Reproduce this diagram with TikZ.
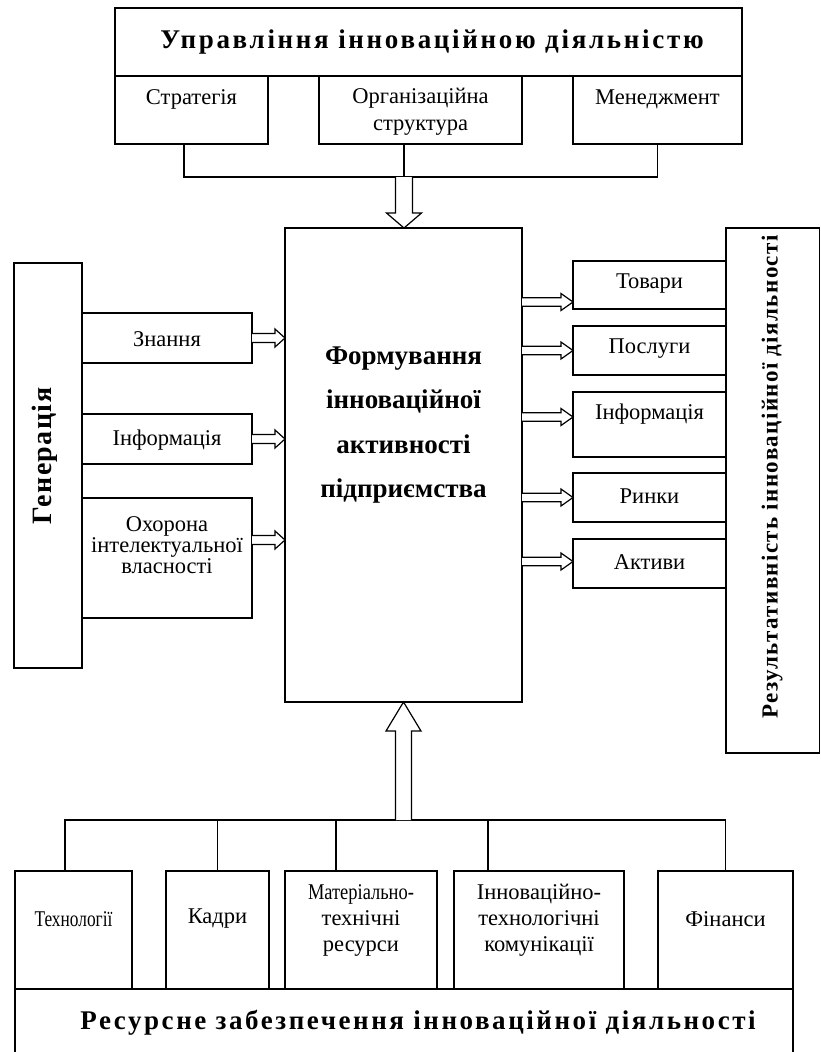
\documentclass[tikz,border=0pt]{standalone}
\usepackage{fontspec}
\setmainfont{Liberation Serif}
\usetikzlibrary{calc}
\tikzset{
  box/.style={draw, line width=1.3pt, inner sep=0pt, outer sep=0pt},
  ln/.style={draw, line width=1.3pt},
  arr/.style={draw, line width=1.2pt, fill=white, line join=miter},
  txt/.style={inner sep=0pt, align=center, font=\fontsize{22.5}{27}\selectfont},
  btxt/.style={inner sep=0pt, align=center},
}
\newcommand\bx[5]{\node[box, minimum width={(#4-#2)*1pt}, minimum height={(#5-#3)*1pt}] (#1) at ({(#2+#4)/2},{(#3+#5)/2}) {};}
\newcommand\hollowarrow[5]{%
  \coordinate (hb) at ($(#2)!#5!(#1)$);
  \draw[arr] ($(#1)!#3!90:(#2)$) -- ($(hb)!#3!-90:(#1)$) -- ($(hb)!#4!-90:(#1)$) -- (#2)
     -- ($(hb)!#4!90:(#1)$) -- ($(hb)!#3!90:(#1)$) -- ($(#1)!#3!-90:(#2)$);
}
\begin{document}
\begin{tikzpicture}[x=1pt,y=-1pt]
\useasboundingbox (0,0) rectangle (821,1052);
\clip (0,0) rectangle (821,1052);
\fill[white] (0,0) rectangle (821,1052);
% top
\bx{top}{115}{8}{742}{76}
\bx{str}{115}{76}{268}{144}
\bx{org}{319}{76}{522}{144}
\bx{men}{573}{76}{742}{144}
\node[btxt, font=\fontsize{27}{30}\selectfont\bfseries\addfontfeature{LetterSpace=10}] (toptxt) at (432,42) {Управління інноваційною діяльністю};
\node[txt] (strt) at (191.5,99) {Стратегія};
\node[txt] (orgt) at (420.5,112) {Організаційна\\структура};
\node[txt] (ment) at (657.5,99) {Менеджмент};
% central
\bx{cen}{285}{228}{522}{702}
\node[btxt, font=\fontsize{27}{44.5}\selectfont\bfseries] (cent) at (403.5,425) {Формування\\інноваційної\\активності\\підприємства};
% left
\bx{gen}{14}{263}{82}{668}
\node[btxt, rotate=90, font=\fontsize{28}{30}\selectfont\bfseries\addfontfeature{LetterSpace=5}] (gent) at (45,456) {Генерація};
\bx{zn}{82}{313}{252}{363}
\bx{inf}{82}{414}{252}{464}
\bx{oh}{82}{498}{252}{618}
\node[txt] (znt) at (167,339) {Знання};
\node[txt] (inft) at (167,440) {Інформація};
\node[txt, font=\fontsize{22.5}{21}\selectfont] (oht) at (167,545) {Охорона\\інтелектуальної\\власності};
% right
\bx{res}{726}{228}{819.5}{753}
\node[btxt, rotate=90, font=\fontsize{23}{26}\selectfont\bfseries\addfontfeature{LetterSpace=6}] (rest) at (772,477) {Результативність інноваційної діяльності};
\bx{tov}{573}{261}{726}{309}
\bx{pos}{573}{326}{726}{375}
\bx{rinf}{573}{392}{726}{457}
\bx{rin}{573}{473}{726}{522}
\bx{akt}{573}{539}{726}{588}
\node[txt] (tovt) at (649.5,284) {Товари};
\node[txt] (post) at (649.5,349) {Послуги};
\node[txt] (rinft) at (649.5,414) {Інформація};
\node[txt] (rint) at (649.5,496) {Ринки};
\node[txt] (aktt) at (649.5,562) {Активи};
% bottom
\bx{tech}{15}{871}{132}{989}
\bx{kad}{166}{871}{269}{989}
\bx{mat}{285}{871}{437}{989}
\bx{inn}{454}{871}{624}{989}
\bx{fin}{658}{871}{793}{989}
\bx{bot}{15}{989}{793}{1060}
\node[txt] (techt) at (73.5,919) {\scalebox{0.77}[1]{Технології}};
\node[txt] (kadt) at (217.5,919) {Кадри};
\node[txt, font=\fontsize{22.5}{26}\selectfont] (matt) at (361,920) {\scalebox{0.82}[1]{Матеріально-}\\технічні\\ресурси};
\node[txt, font=\fontsize{22.5}{26}\selectfont] (innt) at (539,920) {Інноваційно-\\технологічні\\комунікації};
\node[txt] (fint) at (725.5,919) {Фінанси};
\node[btxt, font=\fontsize{27}{30}\selectfont\bfseries\addfontfeature{LetterSpace=9.5}] (bott) at (418,1023) {Ресурсне забезпечення інноваційної діяльності};
% top connectors
\draw[ln] ([xshift=-7.5pt]str.south) -- ++(0,33) -| (men.south);
\draw[ln] ([xshift=-16.5pt]org.south) -- ++(0,33) coordinate (tb);
\coordinate (tbe) at (tb |- cen.north);
\hollowarrow{tb}{tbe}{8.5pt}{17.5pt}{15pt}
% bottom connectors
\draw[ln] ([xshift=-8.5pt]tech.north) -- ++(0,-51) coordinate (bl) -| (fin.north);
\draw[ln] (kad.north) -- ++(0,-51);
\draw[ln] ([xshift=-25pt]mat.north) -- ++(0,-51);
\draw[ln] ([xshift=-51pt]inn.north) -- ++(0,-51);
\coordinate (bs) at (bl -| cen.south);
\hollowarrow{bs}{cen.south}{8pt}{17.5pt}{29pt}
% left arrows
\coordinate (l1) at (zn.east); \coordinate (l1e) at (l1 -| cen.west);
\hollowarrow{l1}{l1e}{4.5pt}{9pt}{10pt}
\coordinate (l2) at (inf.east); \coordinate (l2e) at (l2 -| cen.west);
\hollowarrow{l2}{l2e}{4.5pt}{9pt}{10pt}
\coordinate (l3) at ([yshift=18pt]oh.east); \coordinate (l3e) at (l3 -| cen.west);
\hollowarrow{l3}{l3e}{4.5pt}{9pt}{10pt}
% right arrows
\coordinate (r1e) at ([yshift=-17pt]tov.west); \coordinate (r1) at (r1e -| cen.east);
\hollowarrow{r1}{r1e}{4.25pt}{8.5pt}{12pt}
\coordinate (r2e) at (pos.west); \coordinate (r2) at (r2e -| cen.east);
\hollowarrow{r2}{r2e}{4.25pt}{8.5pt}{12pt}
\coordinate (r3e) at ([yshift=7.5pt]rinf.west); \coordinate (r3) at (r3e -| cen.east);
\hollowarrow{r3}{r3e}{4.25pt}{8.5pt}{12pt}
\coordinate (r4e) at (rin.west); \coordinate (r4) at (r4e -| cen.east);
\hollowarrow{r4}{r4e}{4.25pt}{8.5pt}{12pt}
\coordinate (r5e) at ([yshift=2pt]akt.west); \coordinate (r5) at (r5e -| cen.east);
\hollowarrow{r5}{r5e}{4.25pt}{8.5pt}{12pt}
\end{tikzpicture}
\end{document}
